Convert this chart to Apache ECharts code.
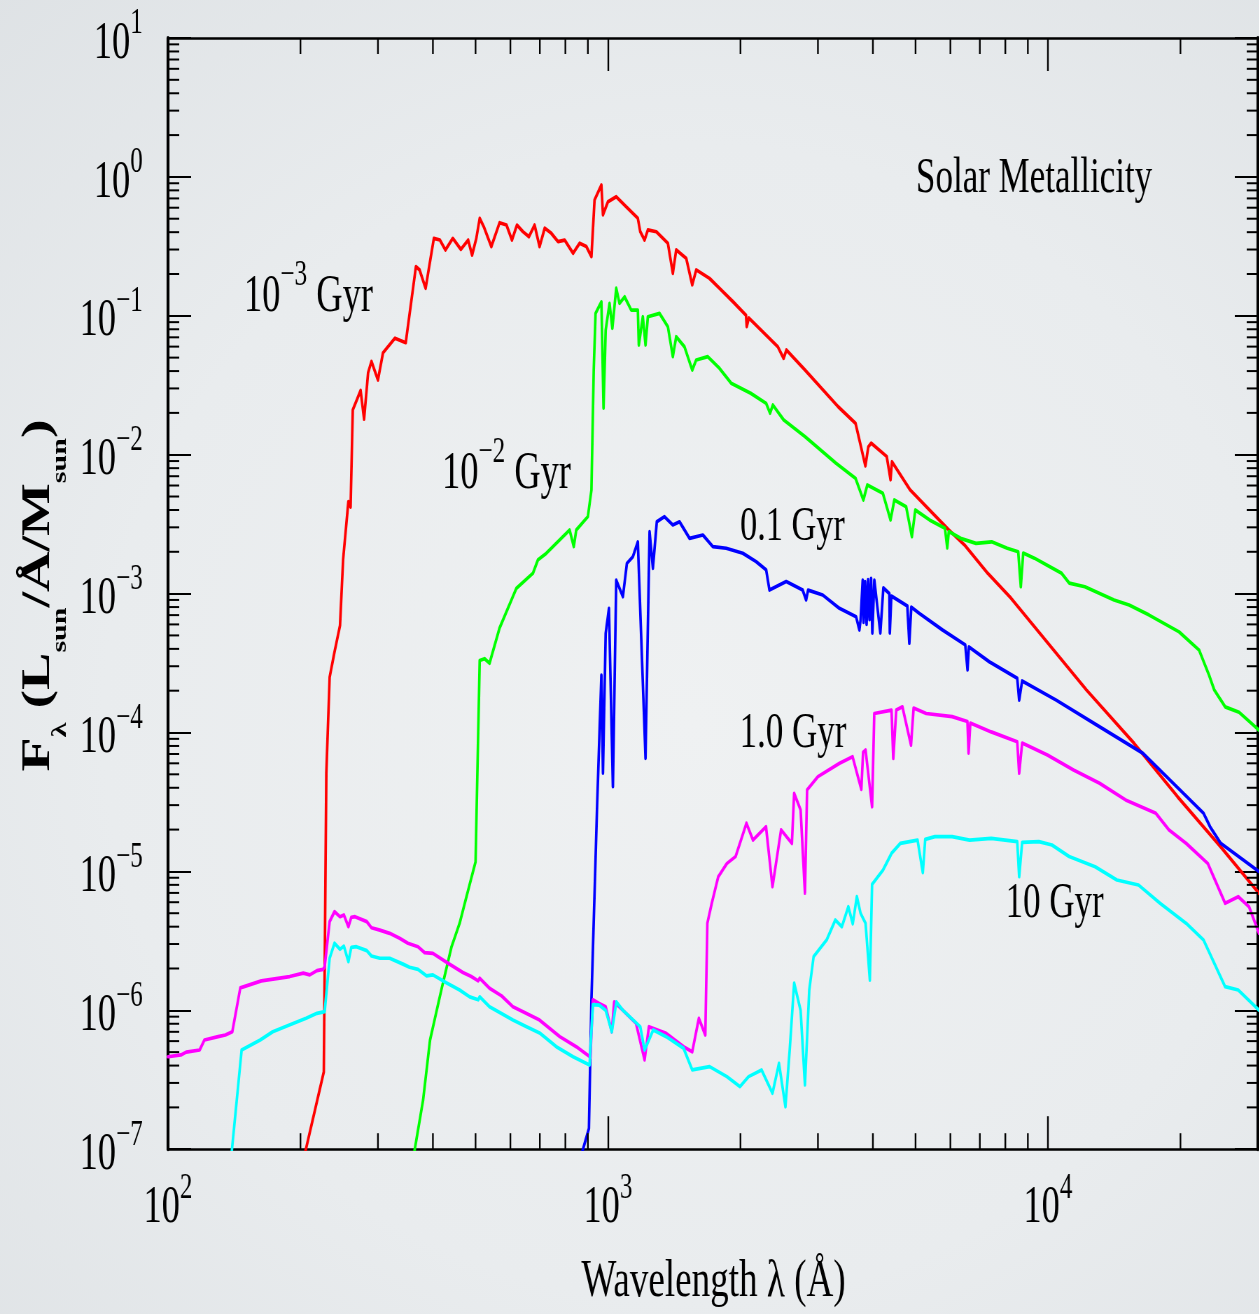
<!DOCTYPE html>
<html>
<head>
<meta charset="utf-8">
<title>Spectral energy distributions - Solar Metallicity</title>
<script src="https://cdn.jsdelivr.net/npm/echarts@6/dist/echarts.min.js"></script>
<style>
  html, body { margin:0; padding:0; width:1259px; height:1314px; overflow:hidden; }
  body { background: radial-gradient(ellipse 85% 80% at 55% 55%, #eff1f2 0%, #e9ecee 55%, #dde1e4 100%); }
  #wrap { position:absolute; left:0; top:0; width:1799px; height:1314px; transform:scaleX(0.7); transform-origin:0 0; }
  #chart { width:1799px; height:1314px; }
</style>
</head>
<body>
<div id="wrap"><div id="chart"></div></div>
<script>
// ---------------- data (wavelength in Angstrom, flux in Lsun/A/Msun) ----------------
const seriesNames  = ['10^-3 Gyr', '10^-2 Gyr', '0.1 Gyr', '1.0 Gyr', '10 Gyr'];
const seriesColors = ['#ff0000', '#00ff00', '#0000ff', '#ff00ff', '#00ffff'];

const spec_1e3Gyr = [[205,9.5e-8],[226,3.6e-7],[229,5.1e-5],[233,2.5e-4],[239,3.8e-4],[246,5.9e-4],[250,1.75e-3],[257,4.6e-3],[260,4.2e-3],[263,2.1e-2],[274,2.9e-2],[279,1.8e-2],[285,3.9e-2],[290,4.7e-2],[300,3.45e-2],[308,5.4e-2],[328,6.9e-2],[347,6.4e-2],[366,0.226],[373,0.214],[385,0.158],[402,0.361],[415,0.351],[427,0.298],[444,0.361],[463,0.301],[481,0.351],[491,0.274],[502,0.361],[511,0.503],[522,0.438],[543,0.315],[567,0.468],[588,0.45],[605,0.351],[621,0.45],[641,0.403],[661,0.371],[681,0.45],[699,0.315],[718,0.427],[743,0.393],[770,0.342],[797,0.351],[833,0.282],[862,0.333],[893,0.315],[917,0.267],[932,0.682],[966,0.874],[974,0.532],[1000,0.663],[1044,0.72],[1100,0.61],[1169,0.503],[1184,0.403],[1211,0.351],[1232,0.415],[1288,0.403],[1368,0.333],[1404,0.202],[1429,0.298],[1506,0.259],[1554,0.167],[1587,0.214],[1701,0.186],[1792,0.158],[1925,0.126],[2059,0.101],[2067,0.0835],[2090,0.0964],[2432,0.0599],[2507,0.0494],[2544,0.0567],[2804,0.0407],[3334,0.0222],[3653,0.0168],[3846,8.3e-3],[3905,1.14e-2],[3964,1.21e-2],[4300,9.7e-3],[4387,6.6e-3],[4420,8.9e-3],[4858,5.6e-3],[5380,4.0e-3],[5954,2.87e-3],[6460,2.24e-3],[7297,1.4e-3],[8246,9.25e-4],[12240,2.02e-4],[15690,8.36e-5],[19700,3.45e-5],[24710,1.5e-5],[30180,6.96e-6]];

const spec_1e2Gyr = [[358,7.4e-8],[380,2.26e-7],[394,6.1e-7],[418,1.4e-6],[441,2.87e-6],[460,4.23e-6],[477,6.6e-6],[500,1.17e-5],[511,3.3e-4],[524,3.4e-4],[538,3.15e-4],[567,5.65e-4],[619,1.09e-3],[675,1.4e-3],[693,1.75e-3],[724,1.95e-3],[763,2.3e-3],[818,2.87e-3],[836,2.18e-3],[847,2.87e-3],[900,3.58e-3],[917,5.57e-3],[928,4.07e-2],[937,0.104],[966,0.126],[977,0.0216],[988,0.079],[1008,0.123],[1023,0.0813],[1044,0.158],[1062,0.123],[1091,0.137],[1129,0.110],[1169,0.110],[1175,0.0616],[1200,0.0985],[1217,0.0616],[1232,0.0985],[1310,0.104],[1368,0.0835],[1404,0.0508],[1429,0.0707],[1492,0.0599],[1554,0.0407],[1587,0.0481],[1686,0.0508],[1792,0.0419],[1905,0.0327],[2110,0.0277],[2288,0.0234],[2335,0.0199],[2370,0.0228],[2507,0.0178],[2804,0.0135],[3301,8.67e-3],[3653,6.76e-3],[3805,4.72e-3],[3885,6.05e-3],[4214,5.28e-3],[4387,3.39e-3],[4475,4.72e-3],[4760,4.22e-3],[4906,2.57e-3],[4994,4.0e-3],[5380,3.39e-3],[5833,2.95e-3],[5903,2.13e-3],[5950,2.8e-3],[6330,2.5e-3],[6862,2.3e-3],[7447,2.36e-3],[8080,2.12e-3],[8557,2.0e-3],[8674,1.12e-3],[8785,1.96e-3],[9313,1.8e-3],[10100,1.56e-3],[10740,1.4e-3],[11180,1.19e-3],[12130,1.12e-3],[14130,9.0e-4],[15290,8.28e-4],[16980,7.0e-4],[19860,5.3e-4],[22040,3.93e-4],[23230,2.59e-4],[23880,2.02e-4],[25270,1.53e-4],[27180,1.4e-4],[30180,1.04e-4]];

const spec_01Gyr = [[866,8.65e-8],[905,1.41e-7],[917,1.19e-6],[944,2.77e-5],[966,2.59e-4],[974,5.09e-5],[988,5.18e-4],[1005,7.84e-4],[1026,4.07e-5],[1044,1.25e-3],[1081,9.5e-4],[1104,1.65e-3],[1139,1.84e-3],[1169,2.36e-3],[1190,4.77e-4],[1217,6.52e-5],[1243,2.79e-3],[1265,1.52e-3],[1291,3.29e-3],[1344,3.58e-3],[1404,3.12e-3],[1454,3.29e-3],[1532,2.5e-3],[1643,2.64e-3],[1731,2.18e-3],[1856,2.12e-3],[2025,1.95e-3],[2171,1.7e-3],[2288,1.48e-3],[2328,1.06e-3],[2541,1.22e-3],[2770,1.06e-3],[2820,9.0e-4],[2850,1.06e-3],[3076,9.77e-4],[3357,7.84e-4],[3663,6.82e-4],[3727,5.47e-4],[3750,6.45e-4],[3792,1.25e-3],[3810,6.2e-4],[3840,1.22e-3],[3870,6.0e-4],[3900,1.26e-3],[3930,6.5e-4],[3962,1.29e-3],[3988,5.2e-4],[4030,1.25e-3],[4159,5.2e-4],[4225,1.1e-3],[4360,1.0e-3],[4370,5.2e-4],[4406,9.61e-4],[4790,8.14e-4],[4840,4.39e-4],[4890,8.0e-4],[5100,7.2e-4],[5760,5.47e-4],[6486,4.27e-4],[6564,2.82e-4],[6610,4.13e-4],[7355,3.23e-4],[8514,2.46e-4],[8600,1.71e-4],[8736,2.35e-4],[10440,1.71e-4],[13100,1.1e-4],[16430,7.09e-5],[22570,2.62e-5],[23350,2.1e-5],[24710,1.59e-5],[30180,9.95e-6]];

const spec_1Gyr = [[100,4.63e-7],[107,4.77e-7],[110,5.0e-7],[118,5.18e-7],[121,6.11e-7],[130,6.46e-7],[135,6.64e-7],[140,7.01e-7],[146,1.45e-6],[163,1.63e-6],[189,1.75e-6],[203,1.85e-6],[210,1.8e-6],[218,1.93e-6],[225,1.97e-6],[227,2.06e-6],[233,4.35e-6],[239,5.13e-6],[246,4.72e-6],[251,4.86e-6],[257,4.0e-6],[261,4.67e-6],[266,4.72e-6],[283,4.35e-6],[290,3.93e-6],[303,3.78e-6],[319,3.58e-6],[336,3.3e-6],[351,3.04e-6],[370,2.87e-6],[383,2.6e-6],[400,2.57e-6],[433,2.18e-6],[468,1.87e-6],[489,1.75e-6],[507,1.63e-6],[511,1.7e-6],[538,1.44e-6],[573,1.27e-6],[608,1.06e-6],[653,9.5e-7],[699,8.5e-7],[777,6.46e-7],[847,5.47e-7],[912,4.6e-7],[924,1.19e-6],[955,1.12e-6],[988,1.06e-6],[1020,7.0e-7],[1033,1.15e-6],[1081,1.0e-6],[1158,8.06e-7],[1211,4.39e-7],[1239,7.62e-7],[1356,6.83e-7],[1485,5.47e-7],[1554,5.03e-7],[1609,8.76e-7],[1664,6.64e-7],[1682,4.23e-6],[1721,5.89e-6],[1781,9.16e-6],[1863,1.14e-5],[1950,1.28e-5],[2064,2.22e-5],[2136,1.68e-5],[2286,2.1e-5],[2365,7.76e-6],[2474,1.99e-5],[2618,1.59e-5],[2649,3.65e-5],[2740,2.77e-5],[2803,6.96e-6],[2835,3.86e-5],[3000,4.81e-5],[3360,6.0e-5],[3596,6.7e-5],[3765,3.9e-5],[3800,7.2e-5],[3849,7.48e-5],[3983,2.92e-5],[4029,1.37e-4],[4410,1.45e-4],[4450,6.5e-5],[4520,1.45e-4],[4669,1.53e-4],[4883,8.1e-5],[4950,1.5e-4],[5287,1.37e-4],[6056,1.3e-4],[6560,1.2e-4],[6600,7.1e-5],[6660,1.17e-4],[7430,1.01e-4],[8514,8.59e-5],[8600,5.09e-5],[8736,8.4e-5],[9970,6.89e-5],[11430,5.37e-5],[13100,4.31e-5],[15010,3.27e-5],[17590,2.62e-5],[18830,1.99e-5],[20610,1.59e-5],[23080,1.14e-5],[25270,5.89e-6],[27060,6.58e-6],[28630,5.57e-6],[30180,3.58e-6]];

const spec_10Gyr = [[139,8.36e-8],[147,5.18e-7],[162,6.11e-7],[173,7.01e-7],[193,8.06e-7],[206,8.76e-7],[218,9.51e-7],[227,9.77e-7],[233,2.37e-6],[239,3.04e-6],[246,2.75e-6],[251,2.9e-6],[257,2.24e-6],[261,2.84e-6],[268,2.87e-6],[283,2.69e-6],[290,2.46e-6],[303,2.37e-6],[319,2.37e-6],[342,2.15e-6],[354,2.04e-6],[370,1.97e-6],[387,1.77e-6],[400,1.8e-6],[429,1.58e-6],[460,1.4e-6],[485,1.25e-6],[507,1.19e-6],[511,1.25e-6],[538,1.06e-6],[608,8.52e-7],[653,7.62e-7],[699,6.87e-7],[763,5.47e-7],[833,4.63e-7],[908,4.04e-7],[924,1.1e-6],[955,1.09e-6],[988,1.0e-6],[1020,7.0e-7],[1045,1.15e-6],[1081,1.0e-6],[1184,7.62e-7],[1211,5.18e-7],[1267,7.22e-7],[1356,6.46e-7],[1485,5.33e-7],[1554,3.72e-7],[1702,3.93e-7],[1863,3.33e-7],[1995,2.82e-7],[2087,3.33e-7],[2234,3.72e-7],[2365,2.53e-7],[2447,4.15e-7],[2531,2.02e-7],[2588,5.18e-7],[2649,1.57e-6],[2740,1.0e-6],[2803,2.9e-7],[2867,1.4e-6],[2933,2.43e-6],[3140,3.21e-6],[3286,4.47e-6],[3400,4.0e-6],[3517,5.57e-6],[3600,4.2e-6],[3678,6.58e-6],[3750,5.0e-6],[3849,4.23e-6],[3937,1.65e-6],[3983,8.07e-6],[4216,1.02e-5],[4410,1.35e-5],[4616,1.59e-5],[5053,1.68e-5],[5194,9.8e-6],[5260,1.7e-5],[5534,1.78e-5],[6056,1.78e-5],[6633,1.68e-5],[7430,1.73e-5],[8514,1.64e-5],[8600,9.16e-6],[8736,1.62e-5],[9535,1.64e-5],[10210,1.55e-5],[11170,1.28e-5],[12800,1.08e-5],[14340,8.67e-6],[16060,7.98e-6],[17990,5.89e-6],[20610,4.23e-6],[22570,3.21e-6],[25270,1.48e-6],[27060,1.4e-6],[30180,1.0e-6]];

// axis ranges and tick decades
const xRange = [100, 30000];
const yRange = [1e-7, 10];
const xTickDecades = [100, 1000, 10000];
const yTickDecades = [1e-7, 1e-6, 1e-5, 1e-4, 1e-3, 1e-2, 1e-1, 1];
const minorMultipliers = [2, 3, 4, 5, 6, 7, 8, 9];

// ---------------- presentation ----------------
const SX = 0.7;                 // the figure's lettering is horizontally condensed
const FONT = 'Liberation Serif';
const INK = '#000';

const xMinor = [];
xTickDecades.forEach(d => minorMultipliers.forEach(m => { const v = m * d; if (v < xRange[1]) xMinor.push(v); }));
const yMinor = [];
yTickDecades.forEach(d => minorMultipliers.forEach(m => yMinor.push(+(m * d).toPrecision(3))));

function powLabel(v) {
  const e = Math.log10(v), r = Math.round(e);
  if (Math.abs(e - r) > 1e-6) return '';
  return '{m|10}{s|' + (r < 0 ? '\u2212' + (-r) : String(r)) + '}';
}
const axisRich = {
  m: { fontFamily: FONT, fontSize: 52, lineHeight: 64, verticalAlign: 'bottom', color: INK },
  s: { fontFamily: FONT, fontSize: 36, lineHeight: 20, verticalAlign: 'top', color: INK }
};
const annRich = {
  m: { fontFamily: FONT, fontSize: 52, lineHeight: 66, verticalAlign: 'bottom', fill: INK, color: INK },
  s: { fontFamily: FONT, fontSize: 36, lineHeight: 16, verticalAlign: 'top', fill: INK, color: INK }
};
const titleRich = {
  b: { fontFamily: FONT, fontWeight: 'bold', fontSize: 56, lineHeight: 56, verticalAlign: 'top', fill: INK, color: INK },
  t: { fontFamily: FONT, fontWeight: 'bold', fontSize: 30, lineHeight: 74, verticalAlign: 'bottom', fill: INK, color: INK }
};

function logAxis(kind, position, range, showLabels, lineW, tickW) {
  const ax = {
    type: 'log', logBase: 10, min: range[0], max: range[1], position: position,
    gridIndex: 0,
    axisLine: { show: true, onZero: false, lineStyle: { color: INK, width: lineW } },
    axisTick: { show: true, inside: true, length: 33, lineStyle: { color: INK, width: tickW } },
    minorTick: { show: false },
    splitLine: { show: false },
    minorSplitLine: { show: false },
    axisPointer: { show: false },
    axisLabel: { show: false }
  };
  if (showLabels) {
    ax.axisLabel = {
      show: true, formatter: powLabel, rich: axisRich, color: INK,
      showMinLabel: true, showMaxLabel: true, hideOverlap: false,
      margin: kind === 'x' ? 21 : 36
    };
  }
  return ax;
}

function tickSeries(values, isX) {
  return {
    type: 'custom', coordinateSystem: 'cartesian2d', xAxisIndex: 0, yAxisIndex: 0,
    silent: true, clip: false, z: 20, animation: false,
    data: values.map(v => isX ? [v, 1] : [1000, v]),
    renderItem: function (params, api) {
      const cs = params.coordSys;
      const st = { stroke: INK, lineWidth: isX ? 2.4 : 2 };
      if (isX) {
        const px = api.coord([api.value(0), 1])[0];
        const yb = cs.y + cs.height, yt = cs.y;
        return { type: 'group', children: [
          { type: 'line', shape: { x1: px, y1: yb, x2: px, y2: yb - 16 }, style: st },
          { type: 'line', shape: { x1: px, y1: yt, x2: px, y2: yt + 16 }, style: st }
        ]};
      }
      const py = api.coord([1000, api.value(1)])[1];
      const xl = cs.x, xr = cs.x + cs.width;
      return { type: 'group', children: [
        { type: 'line', shape: { x1: xl, y1: py, x2: xl + 16, y2: py }, style: st },
        { type: 'line', shape: { x1: xr, y1: py, x2: xr - 16, y2: py }, style: st }
      ]};
    }
  };
}

function plainText(text, xOrig, yCenter, size) {
  return { type: 'text', x: xOrig / SX, y: yCenter, silent: true, z: 100,
    style: { text: text, fontFamily: FONT, fontSize: size, fill: INK, align: 'left', verticalAlign: 'middle' } };
}
function richText(text, xOrig, yTop) {
  return { type: 'text', x: xOrig / SX, y: yTop, silent: true, z: 100,
    style: { text: text, rich: annRich, fontFamily: FONT, fontSize: 52, fill: INK, align: 'left', verticalAlign: 'top' } };
}

const spectra = [spec_1e3Gyr, spec_1e2Gyr, spec_01Gyr, spec_1Gyr, spec_10Gyr];

const chart = echarts.init(document.getElementById('chart'), null, { renderer: 'canvas' });
chart.setOption({
  animation: false,
  backgroundColor: 'transparent',
  grid: { left: 168 / SX, right: 2, top: 38, bottom: 164.8, containLabel: false, outerBoundsMode: 'none', show: false },
  xAxis: [
    logAxis('x', 'bottom', xRange, true, 2.5, 2.4),
    logAxis('x', 'top', xRange, false, 2.6, 2.4)
  ],
  yAxis: [
    logAxis('y', 'left', yRange, true, 4.2, 2),
    logAxis('y', 'right', yRange, false, 4.2, 2)
  ],
  series: spectra.map((d, i) => ({
    type: 'line', name: seriesNames[i], data: d,
    xAxisIndex: 0, yAxisIndex: 0,
    showSymbol: false, symbol: 'none', silent: true, z: 3 + i,
    lineStyle: { color: seriesColors[i], width: 3.7, join: 'round', cap: 'round' },
    itemStyle: { color: seriesColors[i] },
    emphasis: { disabled: true }
  })).concat([tickSeries(xMinor, true), tickSeries(yMinor, false)]),
  graphic: { elements: [
    plainText('Solar Metallicity', 916, 179, 50),
    richText('{m|10}{s|\u22123}{m| Gyr}', 244, 257.5),
    richText('{m|10}{s|\u22122}{m| Gyr}', 442, 434.2),
    plainText('0.1 Gyr', 740, 527.5, 49),
    plainText('1.0 Gyr', 739.5, 733.4, 50),
    plainText('10 Gyr', 1005.5, 903.4, 50),
    { type: 'text', x: 713.5 / SX, y: 1282.5, silent: true, z: 100,
      style: { text: 'Wavelength \u03bb (\u00c5)', fontFamily: FONT, fontSize: 53, fill: INK, align: 'center', verticalAlign: 'middle' } },
    { type: 'text', x: 44.9 / SX, y: 595.5, rotation: Math.PI / 2, silent: true, z: 100,
      style: { text: '{b|F}{t|\u03bb}{b| (L}{t|sun}{b|/\u00c5/M}{t|sun}{b|)}', rich: titleRich,
               fontFamily: FONT, fontSize: 56, fill: INK, align: 'center', verticalAlign: 'middle' } }
  ]}
});
</script>
</body>
</html>
